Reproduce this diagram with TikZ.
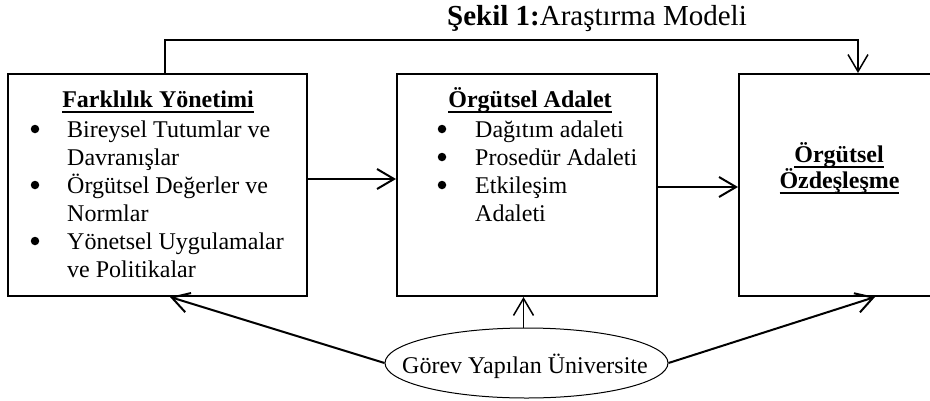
\documentclass[tikz,border=0pt]{standalone}
\usepackage{fontspec}
\setmainfont{Liberation Serif}
\usetikzlibrary{arrows.meta,shapes.geometric,calc}
\newcommand{\ulbox}[1]{\setbox0\hbox{#1}\rlap{\rule[-5.8pt]{\wd0}{1.7pt}}\box0}
\begin{document}
\begin{tikzpicture}[x=1pt,y=-1pt,
  boxn/.style={draw=black, line width=2pt, rectangle, inner sep=0pt, minimum height=222pt},
  txt/.style={anchor=base west, inner sep=0pt, font=\fontsize{24}{28}\selectfont},
  ttl/.style={anchor=base, inner sep=0pt, font=\fontsize{24}{28}\selectfont\bfseries},
  bul/.style={circle, fill=black, inner sep=0pt, minimum size=8.5pt},
  lbl/.style={anchor=base, inner sep=0pt, font=\fontsize{24}{28}\selectfont},
  arr/.style={line width=2pt, -{Straight Barb[length=17pt,width=20pt]}},
  arrthin/.style={line width=1.5pt, -{Straight Barb[length=17pt,width=20pt]}}
]
\useasboundingbox (0,0) rectangle (930,400);
\clip (0,0) rectangle (930,400);

% title
\node[anchor=base west, inner sep=0pt, font=\fontsize{29}{34}\selectfont] (title) at (447,25) {\textbf{Şekil 1:}Araştırma Modeli};

% boxes
\node[boxn, minimum width=299pt] (lbox) at (157.5,185) {};
\node[boxn, minimum width=260pt] (mbox) at (527,185) {};
\node[boxn, minimum width=201pt] (rbox) at (839.5,185) {};

% left box text
\node[ttl] (lt) at (158,107) {\ulbox{Farklılık Yönetimi}};
\node[bul] (lb1) at (35,129) {};
\node[bul] (lb2) at (35,185) {};
\node[bul] (lb3) at (35,241) {};
\node[txt] (l1) at (67,137) {Bireysel Tutumlar ve};
\node[txt] (l2) at (67,165) {Davranışlar};
\node[txt] (l3) at (67,193) {Örgütsel Değerler ve};
\node[txt] (l4) at (67,221) {Normlar};
\node[txt] (l5) at (67,249) {Yönetsel Uygulamalar};
\node[txt] (l6) at (67,277) {ve Politikalar};

% middle box text
\node[ttl] (mt) at (530,107) {\ulbox{Örgütsel Adalet}};
\node[bul] (mb1) at (442,129) {};
\node[bul] (mb2) at (442,157) {};
\node[bul] (mb3) at (442,185) {};
\node[txt] (m1) at (475,137) {Dağıtım adaleti};
\node[txt] (m2) at (475,165) {Prosedür Adaleti};
\node[txt] (m3) at (475,193) {Etkileşim};
\node[txt] (m4) at (475,221) {Adaleti};

% right box text
\node[ttl] (rt1) at (839,162) {\ulbox{Örgütsel}};
\node[ttl] (rt2) at (839.5,188) {\ulbox{Özdeşleşme}};

% ellipse
\node[ellipse, draw, line width=1pt, minimum width=283pt, minimum height=70pt, inner sep=0pt] (uni) at (526.5,363) {};
\node[lbl] (unilbl) at (525,373) {Görev Yapılan Üniversite};

% helper coordinates
\coordinate (tl) at (165,40);
\coordinate (tr) at (858,40);
\coordinate (y1) at (0,179);
\coordinate (y2) at (0,187);
\coordinate (la) at (170,0);
\coordinate (ra) at (875,0);
\coordinate (ma) at ($(uni.north)+(-3,0)$);

% connectors
\draw[arrthin] (lbox.north -| tl) -- (tl) -- (tr) -- (rbox.north -| tr);
\draw[arr] (lbox.east |- y1) -- (mbox.west |- y1);
\draw[arr] (mbox.east |- y2) -- (rbox.west |- y2);
\draw[arr] (uni.west) -- (lbox.south -| la);
\draw[arr] (uni.east) -- (rbox.south -| ra);
\draw[arrthin] (ma) -- (mbox.south -| ma);
\end{tikzpicture}
\end{document}
